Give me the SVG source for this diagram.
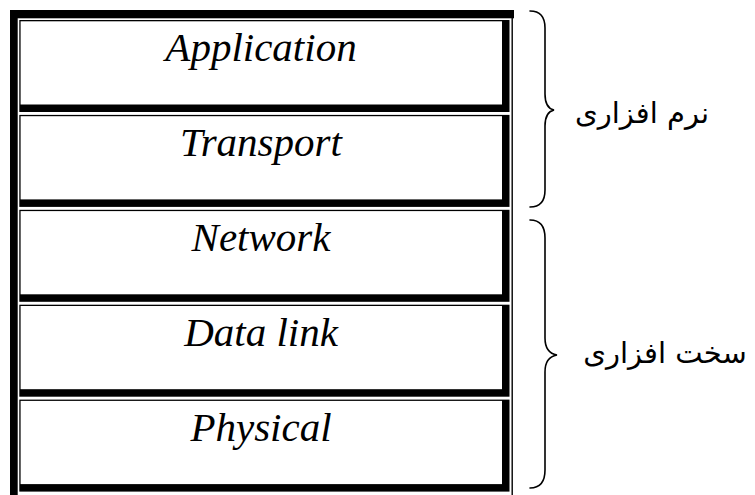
<svg xmlns="http://www.w3.org/2000/svg" width="755" height="495" viewBox="0 0 755 495">
<style>
.fr{fill:#000}
.in{fill:#fff}
.lbl{font-family:"Liberation Serif","Times New Roman",serif;font-style:italic;font-size:41px;fill:#000;text-anchor:middle}
.fa{font-family:"DejaVu Sans","Noto Sans",sans-serif;font-size:29px;fill:#000;text-anchor:middle}
.br{fill:none;stroke:#000;stroke-width:1.6;stroke-linecap:round}
</style>
<rect width="755" height="495" fill="#fff"/>
<g id="frame">
<rect class="fr" x="10" y="10" width="504" height="8.3"/>
<rect class="fr" x="10" y="10" width="7.7" height="485"/>
<rect class="fr" x="511.5" y="18" width="1.4" height="477"/>
</g>
<g id="application">
<rect class="fr" x="19.3" y="20" width="490.2" height="92"/>
<rect class="in" x="20.6" y="21.3" width="481.4" height="83.2"/>
<text class="lbl" x="261" y="61">Application</text>
</g>
<g id="transport">
<rect class="fr" x="19.3" y="114.9" width="490.2" height="92"/>
<rect class="in" x="20.6" y="116.2" width="481.4" height="83.2"/>
<text class="lbl" x="261" y="155.9">Transport</text>
</g>
<g id="network">
<rect class="fr" x="19.3" y="209.8" width="490.2" height="92"/>
<rect class="in" x="20.6" y="211.1" width="481.4" height="83.2"/>
<text class="lbl" x="261" y="250.8">Network</text>
</g>
<g id="datalink">
<rect class="fr" x="19.3" y="304.7" width="490.2" height="92"/>
<rect class="in" x="20.6" y="306" width="481.4" height="83.2"/>
<text class="lbl" x="261" y="345.7">Data link</text>
</g>
<g id="physical">
<rect class="fr" x="19.3" y="399.6" width="490.2" height="92"/>
<rect class="in" x="20.6" y="400.9" width="481.4" height="83.2"/>
<text class="lbl" x="261" y="440.6">Physical</text>
</g>
<g id="connectors">
<path class="br" d="M530,11 Q545,11 545,28 L545,94 Q545,108 554,110 Q545,112 545,126 L545,190 Q545,207 530,207"/>
<path class="br" d="M530,220 Q545,220 545,238 L545,338 Q545,353 557,355 Q545,357 545,372 L545,470 Q545,488 530,488"/>
</g>
<g id="software">
<text class="fa" x="642" y="123" direction="rtl">نرم افزاری</text>
</g>
<g id="hardware">
<text class="fa" x="665" y="363" direction="rtl">سخت افزاری</text>
</g>
</svg>
